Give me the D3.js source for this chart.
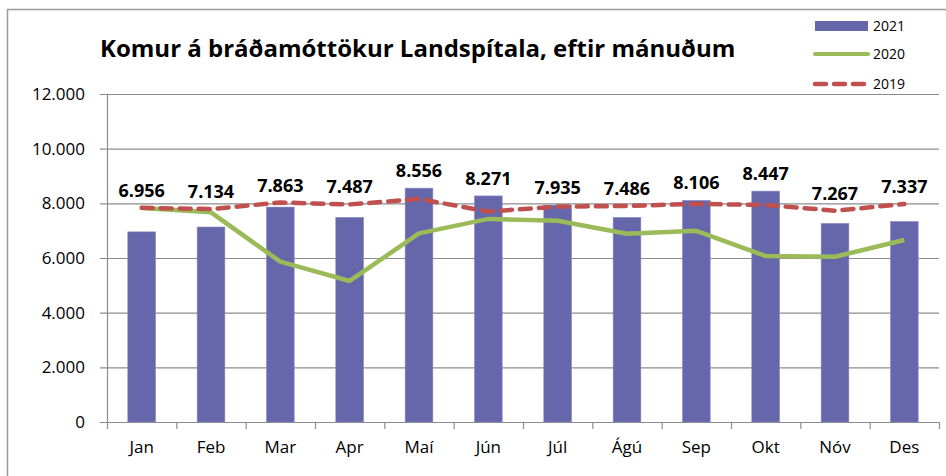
<!DOCTYPE html>
<html>
<head>
<meta charset="utf-8">
<script src="https://cdn.jsdelivr.net/npm/d3@7"></script>
<style>
  html, body { margin: 0; padding: 0; background: #fff; }
  svg { display: block; font-family: "Open Sans", sans-serif; }
</style>
</head>
<body>
<svg id="chart" width="946" height="476"></svg>
<script>
const months = ["Jan","Feb","Mar","Apr","Maí","Jún","Júl","Ágú","Sep","Okt","Nóv","Des"];
const values2021 = [6956,7134,7863,7487,8556,8271,7935,7486,8106,8447,7267,7337];
const values2020 = [7830,7670,5865,5160,6900,7430,7360,6890,6995,6070,6045,6660];
const values2019 = [7835,7790,8030,7960,8160,7700,7880,7905,7980,7940,7730,7975];
const yTicks = [0,2000,4000,6000,8000,10000,12000];
const seriesNames = ["2021","2020","2019"];
const titleText = "Komur á bráðamóttökur Landspítala, eftir mánuðum";

(function () {
const colBar = "#6666aa", colGreen = "#9bbb59", colRed = "#c0504d", colGrid = "#8c8c8c";

const svg = d3.select("#chart");
const pL = 107, pR = 939, pT = 94, pB = 422;

const isl = d3.formatLocale({decimal: ",", thousands: ".", grouping: [3], currency: ["", ""]});
const fmt = isl.format(",d");

const x = d3.scaleBand().domain(months).range([pL, pR]).paddingInner(0.6).paddingOuter(0.3);
const y = d3.scaleLinear().domain([0, 12000]).range([pB, pT]);
const step = x.step(), bw = x.bandwidth();
const cx = m => x(m) + bw / 2;

// outer border
svg.append("rect").attr("x", 7.5).attr("y", 9.5).attr("width", 1000).attr("height", 600)
  .attr("fill", "none").attr("stroke", "#9a9a9a").attr("stroke-width", 1.5);

// gridlines + y axis
const yAxis = d3.axisLeft(y).tickValues(yTicks).tickFormat(fmt).tickSize(0).tickPadding(22);
const gy = svg.append("g").attr("transform", `translate(${pL},0)`).call(yAxis);
gy.select(".domain").remove();
gy.selectAll("text").attr("font-size", 17).attr("fill", "#000").attr("font-family", "Open Sans");
svg.append("g").selectAll("line").data(yTicks).join("line")
  .attr("x1", pL - 7).attr("x2", pR).attr("y1", d => y(d) + 0.5).attr("y2", d => y(d) + 0.5)
  .attr("stroke", colGrid).attr("stroke-width", 1.2);
svg.append("line").attr("x1", pL + 0.5).attr("x2", pL + 0.5).attr("y1", pT).attr("y2", pB + 1)
  .attr("stroke", colGrid).attr("stroke-width", 1.2);

// x axis ticks and labels
const xAxis = d3.axisBottom(x).tickSize(0).tickPadding(19);
const gx = svg.append("g").attr("transform", `translate(0,${pB})`).call(xAxis);
gx.select(".domain").remove();
gx.selectAll("text").attr("font-size", 17).attr("fill", "#000").attr("font-family", "Open Sans");
const bounds = months.map(m => x(m) - step * 0.3).concat([pR]);
svg.append("g").selectAll("line").data(bounds).join("line")
  .attr("x1", d => d + 0.5).attr("x2", d => d + 0.5).attr("y1", pB).attr("y2", pB + 7)
  .attr("stroke", colGrid).attr("stroke-width", 1.2);

// bars
svg.append("g").selectAll("rect").data(months).join("rect")
  .attr("x", m => x(m)).attr("width", bw)
  .attr("y", (m, i) => y(values2021[i])).attr("height", (m, i) => pB - y(values2021[i]))
  .attr("fill", colBar).attr("stroke", "#8a8ac4").attr("stroke-width", 0.6);

// lines
const line = d3.line().x(d => cx(d.m)).y(d => y(d.v));
svg.append("path").datum(months.map((m, i) => ({m, v: values2020[i]})))
  .attr("d", line).attr("fill", "none").attr("stroke", colGreen).attr("stroke-width", 4.5)
  .attr("stroke-linejoin", "round");
svg.append("path").datum(months.map((m, i) => ({m, v: values2019[i]})))
  .attr("d", line).attr("fill", "none").attr("stroke", colRed).attr("stroke-width", 4.5)
  .attr("stroke-dasharray", "11,8").attr("stroke-linecap", "round").attr("stroke-linejoin", "round");

// data labels
svg.append("g").selectAll("text").data(months).join("text")
  .attr("x", m => cx(m))
  .attr("y", (m, i) => y(Math.max(values2021[i], values2019[i], values2020[i])) - 11)
  .attr("text-anchor", "middle").attr("font-weight", "bold").attr("font-size", 18)
  .attr("fill", "#000").text((m, i) => fmt(values2021[i]));

// title
svg.append("text").attr("x", 100).attr("y", 57).attr("font-weight", "bold").attr("font-size", 24)
  .attr("fill", "#000").text(titleText);

// legend
const lg = svg.append("g");
const ly = [26, 54, 84];
lg.append("rect").attr("x", 815).attr("y", 21).attr("width", 53).attr("height", 10).attr("fill", colBar);
lg.append("line").attr("x1", 815).attr("x2", 868).attr("y1", ly[1]).attr("y2", ly[1])
  .attr("stroke", colGreen).attr("stroke-width", 4).attr("stroke-linecap", "round");
lg.append("line").attr("x1", 815).attr("x2", 866).attr("y1", ly[2]).attr("y2", ly[2])
  .attr("stroke", colRed).attr("stroke-width", 4.5).attr("stroke-dasharray", "11,8").attr("stroke-linecap", "round");
lg.selectAll("text").data(seriesNames).join("text")
  .attr("x", 873).attr("y", (d, i) => ly[i]).attr("dy", "0.35em")
  .attr("font-size", 14).attr("fill", "#000").text(d => d);
})();
</script>
</body>
</html>
